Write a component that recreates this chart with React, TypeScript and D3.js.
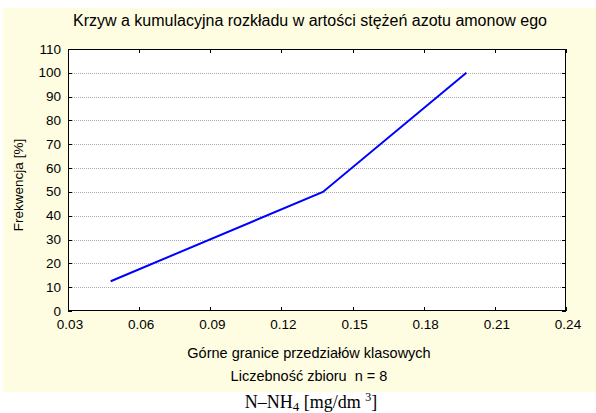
import React from "react";
import * as d3 from "d3";

const xValues = [0.048, 0.1375, 0.198];
const yValues = [12.5, 50, 100];
const xTicks = [0.03, 0.06, 0.09, 0.12, 0.15, 0.18, 0.21, 0.24];
const yTicks = [0, 10, 20, 30, 40, 50, 60, 70, 80, 90, 100, 110];
const gridValues = [10, 20, 30, 40, 50, 60, 70, 80, 90, 100];
const titleText = "Krzyw a kumulacyjna rozkładu w artości stężeń azotu amonow ego";
const yLabel = "Frekwencja [%]";
const xLabel = "Górne granice przedziałów klasowych";
const nLabel = "Liczebność zbioru  n = 8";

const W = 596;
const H = 413;
const plot = { left: 68, right: 566, top: 49, bottom: 311 };
const sans = "'Liberation Sans', Arial, sans-serif";

export default function App() {
  const x = d3.scaleLinear().domain([0.03, 0.24]).range([plot.left, plot.right]);
  const y = d3.scaleLinear().domain([0, 110]).range([plot.bottom, plot.top]);
  const line = d3
    .line<number>()
    .x((_, i) => x(xValues[i]))
    .y((d) => y(d));

  return (
    <svg
      width={W}
      height={H}
      style={{ position: "absolute", left: 0, top: 0, display: "block" }}
    >
      <rect x={0} y={0} width={W} height={H} fill="#ffffff" />
      <rect x={3} y={8} width={W - 3} height={384} fill="#fffde1" />
      <rect
        x={plot.left}
        y={plot.top}
        width={plot.right - plot.left}
        height={plot.bottom - plot.top}
        fill="#ffffff"
      />
      {gridValues.map((v) => (
        <line
          key={"g" + v}
          x1={plot.left}
          x2={plot.right}
          y1={Math.round(y(v)) + 0.5}
          y2={Math.round(y(v)) + 0.5}
          stroke="#a8a8a8"
          strokeWidth={1}
          strokeDasharray="1,1"
        />
      ))}
      {xTicks.map((t) => (
        <g key={"xt" + t}>
          <line
            x1={Math.round(x(t)) + 0.5}
            x2={Math.round(x(t)) + 0.5}
            y1={plot.bottom}
            y2={plot.bottom - 4}
            stroke="#000"
          />
          <line
            x1={Math.round(x(t)) + 0.5}
            x2={Math.round(x(t)) + 0.5}
            y1={plot.top}
            y2={plot.top + 4}
            stroke="#000"
          />
          <text
            x={x(t) + 2}
            y={plot.bottom + 18}
            textAnchor="middle"
            fontFamily={sans}
            fontSize={13.5}
            fill="#000"
          >
            {t.toFixed(2)}
          </text>
        </g>
      ))}
      {yTicks.map((t) => (
        <g key={"yt" + t}>
          <line
            x1={plot.left}
            x2={plot.left + 4}
            y1={Math.round(y(t)) + 0.5}
            y2={Math.round(y(t)) + 0.5}
            stroke="#000"
          />
          <line
            x1={plot.right}
            x2={plot.right - 4}
            y1={Math.round(y(t)) + 0.5}
            y2={Math.round(y(t)) + 0.5}
            stroke="#000"
          />
          <text
            x={plot.left - 7}
            y={y(t) + 4.5}
            textAnchor="end"
            fontFamily={sans}
            fontSize={13.5}
            fill="#000"
          >
            {t}
          </text>
        </g>
      ))}
      <rect
        x={plot.left + 0.5}
        y={plot.top + 0.5}
        width={plot.right - plot.left - 1}
        height={plot.bottom - plot.top - 1}
        fill="none"
        stroke="#000"
        strokeWidth={1}
      />
      <path
        d={line(yValues) || ""}
        fill="none"
        stroke="#0000ff"
        strokeWidth={2}
      />
      <text
        x={310}
        y={26}
        textAnchor="middle"
        fontFamily={sans}
        fontSize={16}
        fill="#000"
        style={{ whiteSpace: "pre" }}
      >
        {titleText}
      </text>
      <text
        transform="translate(23,185) rotate(-90)"
        textAnchor="middle"
        fontFamily={sans}
        fontSize={13.5}
        fill="#000"
      >
        {yLabel}
      </text>
      <text
        x={309}
        y={358}
        textAnchor="middle"
        fontFamily={sans}
        fontSize={14.5}
        fill="#000"
      >
        {xLabel}
      </text>
      <text
        x={309}
        y={381}
        textAnchor="middle"
        fontFamily={sans}
        fontSize={14.5}
        fill="#000"
        style={{ whiteSpace: "pre" }}
      >
        {nLabel}
      </text>
      <text
        x={311}
        y={408}
        textAnchor="middle"
        fontFamily="'Liberation Serif', 'Times New Roman', serif"
        fontSize={18}
        fill="#000"
        style={{ whiteSpace: "pre" }}
      >
        N–NH<tspan fontSize={13} dy={3}>4</tspan>
        <tspan dy={-3}>{" [mg/dm "}</tspan>
        <tspan fontSize={12} dy={-7}>3</tspan>
        <tspan dy={7}>]</tspan>
      </text>
    </svg>
  );
}
